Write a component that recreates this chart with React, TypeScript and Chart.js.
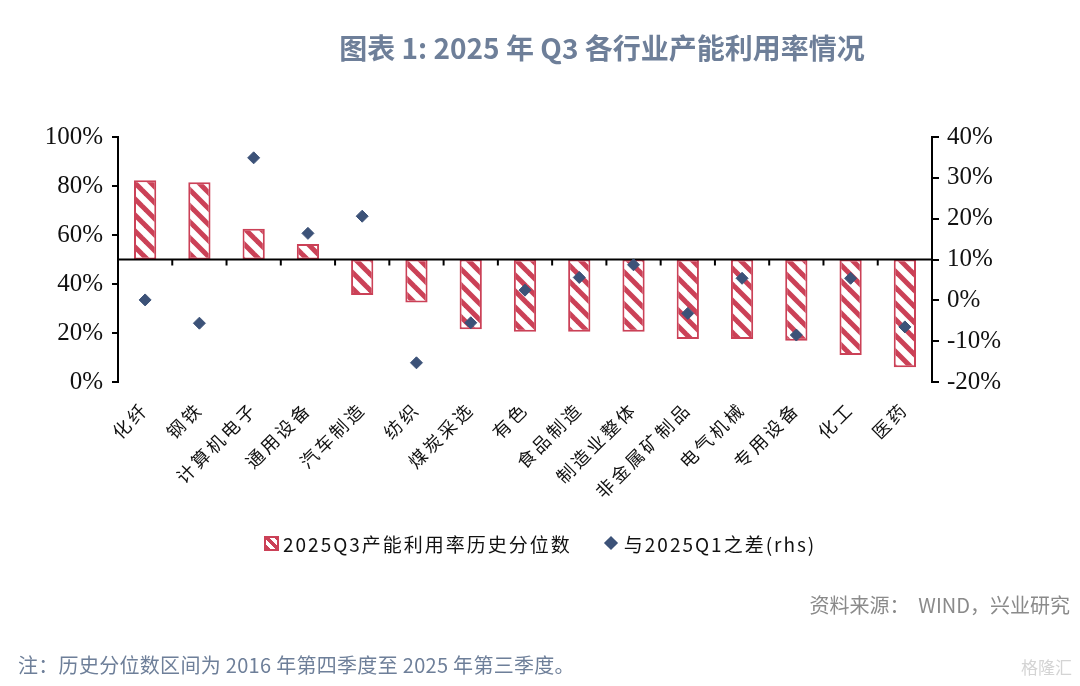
import React, { useEffect, useRef } from "react";
import { Chart, registerables } from "chart.js";

Chart.register(...registerables);

const categories = [
  "化纤", "钢铁", "计算机电子", "通用设备", "汽车制造", "纺织", "煤炭采选", "有色",
  "食品制造", "制造业整体", "非金属矿制品", "电气机械", "专用设备", "化工", "医药",
];
const percentileValues = [82.3, 81.5, 62.6, 56.3, 35.5, 32.5, 21.5, 20.5, 20.5, 20.5, 17.6, 17.6, 16.8, 11.0, 6.0];
const diffValues = [0.1, -5.6, 34.9, 16.4, 20.6, -15.3, -5.5, 2.5, 5.6, 8.7, -3.2, 5.4, -8.5, 5.4, -6.5];
const BASELINE = 50;
const leftAxisRange = [0, 100, 20];
const rightAxisRange = [-20, 40, 10];

const seriesBarLabel = "2025Q3产能利用率历史分位数";
const seriesDiffLabel = "与2025Q1之差(rhs)";
const titleText = "图表 1: 2025 年 Q3 各行业产能利用率情况";
const sourceText = "资料来源：  WIND，兴业研究";
const noteText = "注：历史分位数区间为 2016 年第四季度至 2025 年第三季度。";

const RED = "#CB4157";
const NAVY = "#3C5278";
const SLATE = "#6E7F99";

function makeHatch(): CanvasPattern | string {
  const size = 16;
  const c = document.createElement("canvas");
  c.width = size;
  c.height = size;
  const g = c.getContext("2d");
  if (!g) return RED;
  g.fillStyle = "#ffffff";
  g.fillRect(0, 0, size, size);
  g.strokeStyle = RED;
  g.lineWidth = 5;
  g.lineCap = "square";
  for (const off of [-size, 0, size]) {
    g.beginPath();
    g.moveTo(off, 0);
    g.lineTo(off + size, size);
    g.stroke();
  }
  const p = g.createPattern(c, "repeat");
  return p || RED;
}

const baselinePlugin = {
  id: "baselinePlugin",
  afterLayout(chart: any) {
    const s = chart.scales.x;
    if (s && !s.__spaced) {
      const orig = s.drawLabels.bind(s);
      s.drawLabels = (area: any) => {
        const ctx = chart.ctx as any;
        const prev = ctx.letterSpacing;
        ctx.letterSpacing = "3px";
        orig(area);
        ctx.letterSpacing = prev || "0px";
      };
      s.__spaced = true;
    }
  },
  afterDatasetDraw(chart: any, args: any) {
    if (args.index !== 0) return;
    const { ctx, chartArea, scales } = chart;
    const y = scales.y.getPixelForValue(BASELINE);
    ctx.save();
    ctx.strokeStyle = "#000";
    ctx.lineWidth = 2;
    ctx.beginPath();
    ctx.moveTo(chartArea.left, y);
    ctx.lineTo(chartArea.right, y);
    ctx.stroke();
    const xs = scales.x;
    for (let i = 1; i < categories.length; i++) {
      const x = (xs.getPixelForValue(i - 1) + xs.getPixelForValue(i)) / 2;
      ctx.beginPath();
      ctx.moveTo(x, y);
      ctx.lineTo(x, y + 6);
      ctx.stroke();
    }
    ctx.restore();
  },
};

export default function App() {
  const canvasRef = useRef<HTMLCanvasElement | null>(null);

  useEffect(() => {
    const canvas = canvasRef.current;
    if (!canvas) return;
    const hatch = makeHatch();
    const serifTick = { family: "'Liberation Serif', 'Times New Roman', serif", size: 25 };
    const chart = new Chart(canvas, {
      type: "bar",
      data: {
        labels: categories,
        datasets: [
          {
            type: "bar",
            label: seriesBarLabel,
            data: percentileValues,
            base: BASELINE,
            backgroundColor: hatch as any,
            borderColor: RED,
            borderWidth: 2,
            borderSkipped: false,
            barPercentage: 0.41,
            categoryPercentage: 1,
            yAxisID: "y",
            order: 2,
          } as any,
          {
            type: "line",
            label: seriesDiffLabel,
            data: diffValues,
            showLine: false,
            pointStyle: "rectRot",
            pointRadius: 6,
            pointBackgroundColor: NAVY,
            pointBorderColor: NAVY,
            pointBorderWidth: 1,
            yAxisID: "y2",
            order: 1,
          } as any,
        ],
      },
      options: {
        responsive: false,
        animation: false,
        devicePixelRatio: 1,
        layout: { padding: { left: 0, right: 0, top: 137, bottom: 0 } },
        plugins: {
          legend: { display: false },
          tooltip: { enabled: false },
          title: { display: false },
        },
        scales: {
          x: {
            type: "category",
            offset: true,
            grid: { display: false },
            border: { display: false },
            ticks: {
              autoSkip: false,
              minRotation: 45,
              maxRotation: 45,
              padding: 8,
              color: "#111",
              font: { family: "'Noto Sans CJK SC', sans-serif", size: 18 },
            },
            afterFit: (scale: any) => {
              scale.height = 304;
            },
          },
          y: {
            position: "left",
            min: leftAxisRange[0],
            max: leftAxisRange[1],
            ticks: {
              stepSize: leftAxisRange[2],
              padding: 9,
              color: "#111",
              font: serifTick,
              callback: (v: any) => `${v}%`,
            },
            grid: {
              drawOnChartArea: false,
              drawTicks: true,
              tickLength: 6,
              color: "#000",
              lineWidth: 2,
            },
            border: { display: true, color: "#000", width: 2 },
            afterFit: (scale: any) => {
              scale.width = 118;
            },
          },
          y2: {
            position: "right",
            min: rightAxisRange[0],
            max: rightAxisRange[1],
            ticks: {
              stepSize: rightAxisRange[2],
              padding: 8,
              color: "#111",
              font: serifTick,
              callback: (v: any) => `${v}%`,
            },
            grid: {
              drawOnChartArea: false,
              drawTicks: true,
              tickLength: 7,
              color: "#000",
              lineWidth: 2,
            },
            border: { display: true, color: "#000", width: 2 },
            afterFit: (scale: any) => {
              scale.width = 148;
            },
          },
        },
      } as any,
      plugins: [baselinePlugin],
    });
    return () => chart.destroy();
  }, []);

  const sans = "'Noto Sans CJK SC', 'Noto Sans', sans-serif";

  return (
    <div
      style={{
        position: "fixed",
        left: 0,
        top: 0,
        width: 1080,
        height: 686,
        background: "#fff",
        overflow: "hidden",
        fontFamily: sans,
      }}
    >
      <canvas
        ref={canvasRef}
        width={1080}
        height={686}
        style={{ position: "absolute", left: 0, top: 0, width: 1080, height: 686 }}
      />
      <div
        style={{
          position: "absolute",
          left: 0,
          width: 1204,
          top: 28,
          textAlign: "center",
          fontSize: 28,
          fontWeight: 700,
          color: SLATE,
          lineHeight: "38px",
          whiteSpace: "nowrap",
        }}
      >
        {titleText}
      </div>
      <div
        style={{
          position: "absolute",
          left: 264,
          top: 530,
          height: 26,
          display: "flex",
          alignItems: "center",
          fontSize: 19,
          color: "#111",
          whiteSpace: "nowrap",
          letterSpacing: 2,
        }}
      >
        <span
          style={{
            display: "inline-block",
            width: 11,
            height: 11,
            border: `2px solid ${RED}`,
            background: `repeating-linear-gradient(45deg, ${RED} 0 3px, #fff 3px 7px)`,
            marginRight: 4,
          }}
        />
        <span>{seriesBarLabel}</span>
        <span
          style={{
            display: "inline-block",
            width: 10,
            height: 10,
            background: NAVY,
            transform: "rotate(45deg)",
            marginLeft: 34,
            marginRight: 8,
          }}
        />
        <span>{seriesDiffLabel}</span>
      </div>
      <div
        style={{
          position: "absolute",
          right: 10,
          top: 591,
          fontSize: 20,
          color: "#8A8A8A",
          whiteSpace: "pre",
          lineHeight: "28px",
        }}
      >
        {sourceText}
      </div>
      <div
        style={{
          position: "absolute",
          left: 18,
          top: 651,
          fontSize: 20,
          color: SLATE,
          whiteSpace: "nowrap",
          lineHeight: "28px",
          letterSpacing: 0.3,
        }}
      >
        {noteText}
      </div>
      <div
        style={{
          position: "absolute",
          right: 8,
          top: 656,
          fontSize: 17,
          color: "#D4D4D4",
          lineHeight: "22px",
        }}
      >
        格隆汇
      </div>
    </div>
  );
}
